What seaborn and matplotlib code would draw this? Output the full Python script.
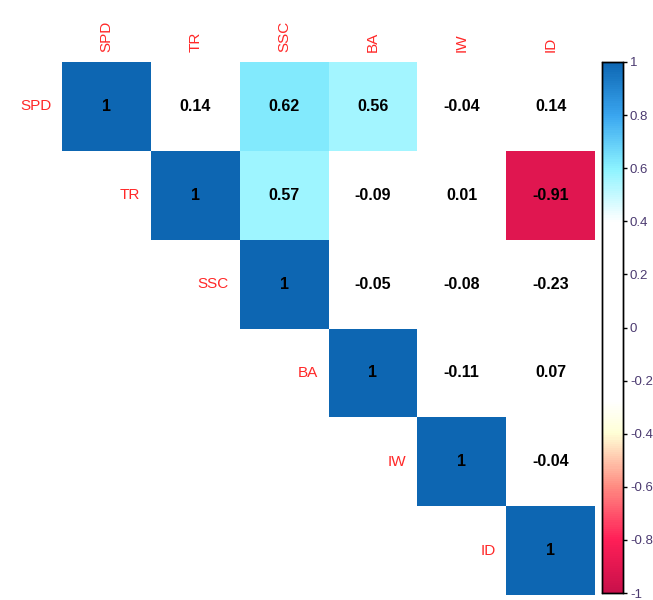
import numpy as np
import pandas as pd
import matplotlib
matplotlib.use("Agg")
import matplotlib.pyplot as plt
from matplotlib.colors import LinearSegmentedColormap
import seaborn as sns

labels = ["SPD", "TR", "SSC", "BA", "IW", "ID"]
# upper triangle rows
row_spd = [1, 0.14, 0.62, 0.56, -0.04, 0.14]
row_tr = [1, 0.57, -0.09, 0.01, -0.91]
row_ssc = [1, -0.05, -0.08, -0.23]
row_ba = [1, -0.11, 0.07]
row_iw = [1, -0.04]
row_id = [1]

rows = [row_spd, row_tr, row_ssc, row_ba, row_iw, row_id]
n = len(labels)
corr = np.zeros((n, n))
for i, r in enumerate(rows):
    for k, v in enumerate(r):
        corr[i, i + k] = v
        corr[i + k, i] = v
df = pd.DataFrame(corr, index=labels, columns=labels)

mask = np.tril(np.ones((n, n), dtype=bool), k=-1)
annot = df.map(lambda v: "1" if v == 1 else f"{v:.2f}")

cmap = LinearSegmentedColormap.from_list("corr", [
    (0.0, "#C8104A"), (0.1, "#FF1F57"), (0.2, "#FF8C82"),
    (0.3, "#FFFFD6"), (0.36, "#FFFFFF"), (0.7, "#FFFFFF"),
    (0.8, "#8CF3FF"), (0.9, "#3AA6F0"), (1.0, "#0D66B2")])

plt.rcParams["font.family"] = ["Liberation Sans", "DejaVu Sans"]

fig = plt.figure(figsize=(6.53, 6.0), dpi=100)
ax = fig.add_axes([62 / 653, 1 - 595 / 600, 533 / 653, 533 / 600])
cax = fig.add_axes([602 / 653, 1 - 593 / 600, 21 / 653, 531 / 600])

sns.heatmap(df, mask=mask, cmap=cmap, vmin=-1, vmax=1, annot=annot, fmt="",
            annot_kws={"fontsize": 11.5, "fontweight": "bold", "color": "black"},
            cbar_ax=cax, ax=ax, square=False, linewidths=0,
            xticklabels=True, yticklabels=False)

ax.xaxis.tick_top()
ax.set_xticklabels(labels, rotation=90, color="#FF2828", fontsize=11)
ax.tick_params(length=0, pad=7)
ax.set_xlabel("")
ax.set_ylabel("")
for i, lab in enumerate(labels):
    ax.text(i - 0.12, i + 0.5, lab, ha="right", va="center",
            color="#FF2828", fontsize=11)

ticks = np.round(np.arange(-1, 1.01, 0.2), 1)
tick_labels = ["0" if t == 0 else f"{t:g}" for t in ticks]
cax.set_yticks(ticks)
cax.set_yticklabels(tick_labels, color="#4B3A70", fontsize=9.5)
cax.tick_params(axis="y", length=3, width=1, color="black", pad=2)
for s in cax.spines.values():
    s.set_visible(True)
    s.set_color("black")
    s.set_linewidth(1)

fig.savefig("out.png", dpi=100)
